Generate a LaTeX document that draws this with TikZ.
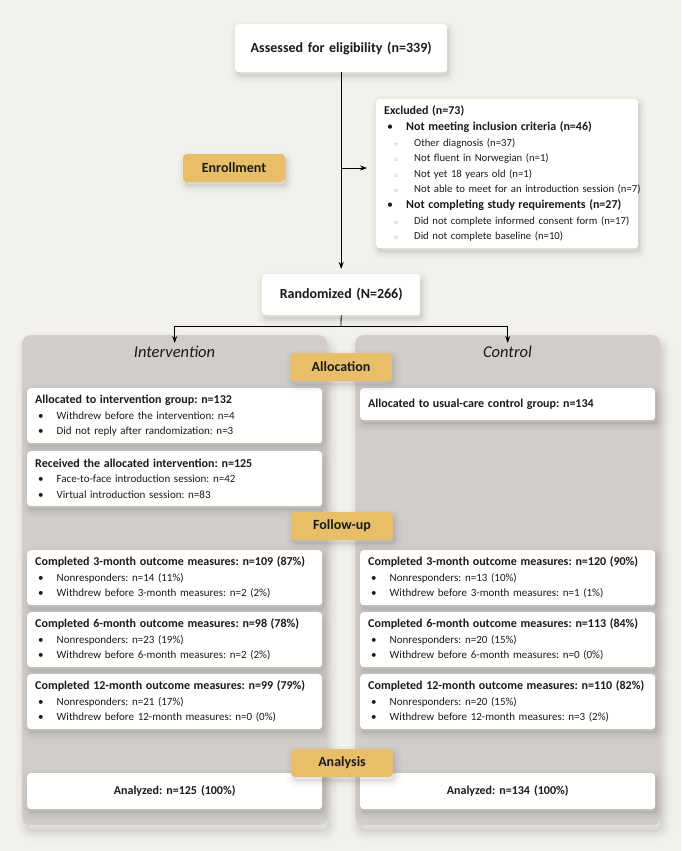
\documentclass[tikz,border=0pt]{standalone}
\usepackage{fontspec}
\setmainfont{Carlito}
\usetikzlibrary{arrows.meta}
\definecolor{bgc}{HTML}{F3F1EC}
\definecolor{panelc}{HTML}{D1CDCB}
\definecolor{goldc}{HTML}{E8BE68}
\definecolor{txtc}{HTML}{1A1A1A}
\definecolor{subc}{HTML}{8A8A8A}
\frenchspacing
\newcommand{\hdline}[1]{{\fontsize{12}{15.5}\selectfont\bfseries #1}}
\newcommand{\myitem}[1]{\mbox{\hspace*{3pt}\makebox[18.5pt][l]{\textbullet}#1}}
\newcommand{\exbold}[1]{\mbox{\hspace*{3pt}\makebox[19pt][l]{\fontsize{12}{15.6}\selectfont\textbullet}{\fontsize{12}{15.6}\selectfont\bfseries #1}}}
\newcommand{\exsub}[1]{\mbox{\hspace*{10pt}\makebox[20pt][l]{\textcolor{subc}{\scriptsize$\circ$}}#1}}
\begin{document}
\begin{tikzpicture}[x=1pt,y=-1pt,
  font=\fontsize{11}{15.5}\selectfont, text=txtc,
  shad/.style={
    preaction={fill=black, fill opacity=0.05, transform canvas={xshift=2pt,yshift=-4pt}},
    preaction={draw=black, draw opacity=0.035, line width=4pt, transform canvas={xshift=2pt,yshift=-4pt}},
    preaction={draw=black, draw opacity=0.025, line width=9pt, transform canvas={xshift=2pt,yshift=-4pt}},
    preaction={draw=black, draw opacity=0.015, line width=14pt, transform canvas={xshift=2pt,yshift=-4pt}}},
  pshad/.style={
    preaction={fill=black, fill opacity=0.04, transform canvas={xshift=3pt,yshift=-7pt}},
    preaction={draw=black, draw opacity=0.03, line width=6pt, transform canvas={xshift=3pt,yshift=-7pt}},
    preaction={draw=black, draw opacity=0.025, line width=12pt, transform canvas={xshift=3pt,yshift=-7pt}},
    preaction={draw=black, draw opacity=0.015, line width=18pt, transform canvas={xshift=3pt,yshift=-7pt}}},
  wbox/.style={fill=white, rounded corners=3.5pt, anchor=north west, inner xsep=8pt, inner ysep=0pt, align=left, shad},
  cbox/.style={wbox, align=center, font=\fontsize{14}{16}\selectfont\bfseries},
  gold/.style={fill=goldc, rounded corners=4pt, minimum width=102pt, minimum height=28pt, inner sep=0pt, font=\fontsize{14}{16}\selectfont\bfseries, shad},
  panel/.style={fill=panelc, rounded corners=8pt, anchor=north west, minimum width=305pt, minimum height=490pt, inner sep=0pt, pshad},
  ptitle/.style={font=\fontsize{16.5}{18}\selectfont\itshape},
  arr/.style={-{Stealth[length=7pt,width=5pt]}, line width=0.8pt},
  ln/.style={line width=0.8pt}
]
\useasboundingbox (0,0) rectangle (681,851);
\fill[bgc] (0,0) rectangle (681,851);

% panels
\node[panel] (lp) at (22,335) {};
\node[panel] (rp) at (355,335) {};
\node[ptitle] (tint) at (174.5,352) {Intervention};
\node[ptitle] (tctl) at (507.5,352) {Control};

% top boxes
\node[cbox, text width=196pt, minimum height=48pt] (assess) at (235,24) {Assessed for eligibility (n=339)};
\node[wbox, text width=246pt, minimum height=149pt, font=\fontsize{10.7}{15.6}\selectfont] (excl) at (376,99) {%
{\fontsize{12}{15.6}\selectfont\bfseries Excluded (n=73)}\\
\exbold{Not meeting inclusion criteria (n=46)}\\
\exsub{Other diagnosis (n=37)}\\
\exsub{Not fluent in Norwegian (n=1)}\\
\exsub{Not yet 18 years old (n=1)}\\
\exsub{Not able to meet for an introduction session (n=7)}\\
\exbold{Not completing study requirements (n=27)}\\
\exsub{Did not complete informed consent form (n=17)}\\
\exsub{Did not complete baseline (n=10)}};
\node[cbox, text width=142pt, minimum height=41pt] (rand) at (262,274) {Randomized (N=266)};

% allocation boxes
\node[wbox, text width=279pt, minimum height=55pt] (a1) at (27,388) {%
\hdline{Allocated to intervention group: n=132}\\
\myitem{Withdrew before the intervention: n=4}\\
\myitem{Did not reply after randomization: n=3}};
\node[wbox, text width=279pt, minimum height=55pt] (a2) at (27,451) {%
\hdline{Received the allocated intervention: n=125}\\
\myitem{Face-to-face introduction session: n=42}\\
\myitem{Virtual introduction session: n=83}};
\node[wbox, text width=279pt, minimum height=32pt] (ar) at (360,388) {%
\hdline{Allocated to usual-care control group: n=134}};

% follow-up boxes
\node[wbox, text width=279pt, minimum height=55pt] (f3l) at (27,550) {%
\hdline{Completed 3-month outcome measures: n=109 (87\%)}\\
\myitem{Nonresponders: n=14 (11\%)}\\
\myitem{Withdrew before 3-month measures: n=2 (2\%)}};
\node[wbox, text width=279pt, minimum height=55pt] (f3r) at (360,550) {%
\hdline{Completed 3-month outcome measures: n=120 (90\%)}\\
\myitem{Nonresponders: n=13 (10\%)}\\
\myitem{Withdrew before 3-month measures: n=1 (1\%)}};
\node[wbox, text width=279pt, minimum height=55pt] (f6l) at (27,612) {%
\hdline{Completed 6-month outcome measures: n=98 (78\%)}\\
\myitem{Nonresponders: n=23 (19\%)}\\
\myitem{Withdrew before 6-month measures: n=2 (2\%)}};
\node[wbox, text width=279pt, minimum height=55pt] (f6r) at (360,612) {%
\hdline{Completed 6-month outcome measures: n=113 (84\%)}\\
\myitem{Nonresponders: n=20 (15\%)}\\
\myitem{Withdrew before 6-month measures: n=0 (0\%)}};
\node[wbox, text width=279pt, minimum height=55pt] (f12l) at (27,674) {%
\hdline{Completed 12-month outcome measures: n=99 (79\%)}\\
\myitem{Nonresponders: n=21 (17\%)}\\
\myitem{Withdrew before 12-month measures: n=0 (0\%)}};
\node[wbox, text width=279pt, minimum height=55pt] (f12r) at (360,674) {%
\hdline{Completed 12-month outcome measures: n=110 (82\%)}\\
\myitem{Nonresponders: n=20 (15\%)}\\
\myitem{Withdrew before 12-month measures: n=3 (2\%)}};

% analysis boxes
\node[wbox, align=center, text width=279pt, minimum height=36pt, font=\fontsize{12}{14}\selectfont\bfseries] (anl) at (27,773) {Analyzed: n=125 (100\%)};
\node[wbox, align=center, text width=279pt, minimum height=36pt, font=\fontsize{12}{14}\selectfont\bfseries] (anr) at (360,773) {Analyzed: n=134 (100\%)};

% connectors
\draw[arr, shorten >=5pt] (assess.south) -- (rand.north);
\coordinate (exj) at (341,168);
\draw[arr, shorten >=9pt] (exj) -- (exj -| excl.west);
\coordinate (split) at (341,326);
\draw[ln] (rand.south) -- (split);
\draw[arr, shorten >=-8pt] (split) -| (lp.north);
\draw[arr, shorten >=-8pt] (split) -| (rp.north);

% stage labels
\node[gold] (enroll) at (234,168) {Enrollment};
\node[gold] (alloc) at (341,367) {Allocation};
\node[gold] (follow) at (342,526) {Follow-up};
\node[gold] (analysis) at (342,763) {Analysis};
\end{tikzpicture}
\end{document}
